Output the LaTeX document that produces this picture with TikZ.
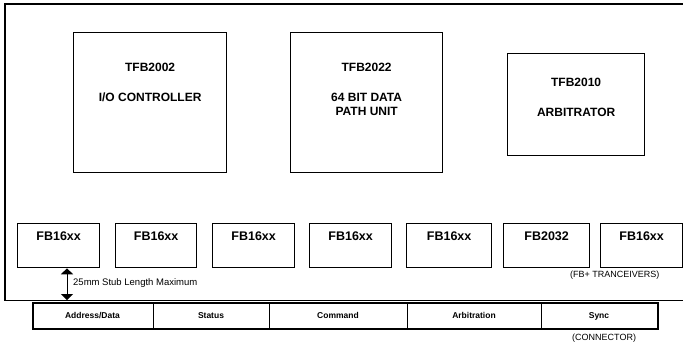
\documentclass[tikz,border=0pt]{standalone}
\usepackage{fontspec}
\setmainfont{Liberation Sans}
\usetikzlibrary{arrows.meta}
\tikzset{
  chip/.style={draw, line width=1.3pt, inner sep=0pt, anchor=north west},
  chiptext/.style={font=\bfseries\fontsize{12}{14}\selectfont, align=center, inner sep=0pt},
  fbtext/.style={font=\bfseries\fontsize{12.5}{14}\selectfont, inner sep=0pt},
  celltext/.style={font=\bfseries\fontsize{8.5}{10}\selectfont, inner sep=0pt, anchor=base},
  note/.style={font=\fontsize{9}{11}\selectfont, inner sep=0pt},
}
\begin{document}
\begin{tikzpicture}[x=1pt,y=-1pt]
\useasboundingbox (0,0) rectangle (683,343);
% board
\draw[line width=1.4pt] (683,4) -- (5,4);
\draw[line width=2.4pt] (5,3.3) -- (5,301);
\draw[line width=1.8pt] (4,300.5) -- (683,300.5);
% top chips
\node[chip, minimum width=153, minimum height=140] (io) at (73,32) {};
\node[chiptext] (iot) at ([yshift=-35pt]io.north) {TFB2002};
\node[chiptext, anchor=base] (iod) at ([yshift=-69.3pt]io.north) {I/O CONTROLLER};
\node[chip, minimum width=152, minimum height=140] (dp) at (290,32) {};
\node[chiptext] (dpt) at ([yshift=-35pt]dp.north) {TFB2022};
\node[chiptext] (dpd) at ([yshift=-72pt]dp.north) {64 BIT DATA\\PATH UNIT};
\node[chip, minimum width=137, minimum height=102] (ar) at (507,53) {};
\node[chiptext] (art) at ([yshift=-29pt]ar.north) {TFB2010};
\node[chiptext] (ard) at ([yshift=-59pt]ar.north) {ARBITRATOR};
% transceivers
\foreach \n/\x/\w/\t in {1/17/82/FB16xx, 2/115/81/FB16xx, 3/212/82/FB16xx, 4/309/82/FB16xx, 5/406/85/FB16xx, 6/503/86/FB2032, 7/600/82/FB16xx}{
  \node[chip, minimum width=\w, minimum height=44] (b\n) at (\x,223) {};
  \node[fbtext] (b\n t) at ([yshift=-13pt]b\n.north) {\t};
}
\node[note, anchor=west] (fbnote) at (570,275) {(FB+ TRANCEIVERS)};
% stub arrow
\coordinate (stub) at (67,300);
\draw[line width=1pt, {Triangle[width=12pt,length=6pt]}-{Triangle[width=12pt,length=6pt]}] (stub |- b1.south) -- (stub);
\node[note, anchor=west, font=\fontsize{9.5}{11}\selectfont] (stubt) at (73,283) {25mm Stub Length Maximum};
% connector
\node[draw, line width=1.8pt, inner sep=0pt, anchor=north west, minimum width=625, minimum height=26] (con) at (32,302) {};
\foreach \x in {153,269,407,541}{ \draw[line width=0.8pt] (\x,302) -- (\x,328); }
\node[celltext] (c1) at (92.5,318.2) {Address/Data};
\node[celltext] (c2) at (211,318.2) {Status};
\node[celltext] (c3) at (338,318.2) {Command};
\node[celltext] (c4) at (474,318.2) {Arbitration};
\node[celltext] (c5) at (599,318.2) {Sync};
\node[note, anchor=west] (connote) at (572,338) {(CONNECTOR)};
\end{tikzpicture}
\end{document}
